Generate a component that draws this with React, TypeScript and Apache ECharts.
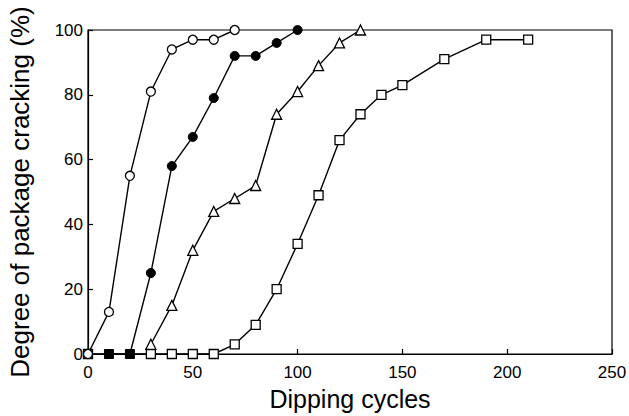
import React, { useEffect, useRef } from "react";
import * as echarts from "echarts";

const xTicks = [0, 50, 100, 150, 200, 250];
const yTicks = [0, 20, 40, 60, 80, 100];

const openCircleX = [0, 10, 20, 30, 40, 50, 60, 70];
const openCircleY = [0, 13, 55, 81, 94, 97, 97, 100];

const filledX = [10, 20, 30, 40, 50, 60, 70, 80, 90, 100];
const filledY = [0, 0, 25, 58, 67, 79, 92, 92, 96, 100];
const filledSquareAt = [10, 20];

const triangleX = [30, 40, 50, 60, 70, 80, 90, 100, 110, 120, 130];
const triangleY = [3, 15, 32, 44, 48, 52, 74, 81, 89, 96, 100];

const squareX = [0, 30, 40, 50, 60, 70, 80, 90, 100, 110, 120, 130, 140, 150, 170, 190, 210];
const squareY = [0, 0, 0, 0, 0, 3, 9, 20, 34, 49, 66, 74, 80, 83, 91, 97, 97];

const FONT = "'Liberation Sans', Arial, Helvetica, sans-serif";

function pairs(xs: number[], ys: number[]) {
  return xs.map((x, i) => [x, ys[i]]);
}

export default function App() {
  const ref = useRef<HTMLDivElement>(null);
  useEffect(() => {
    if (!ref.current) return;
    const chart = echarts.init(ref.current, null, { renderer: "svg" });
    const lineStyle = { color: "#000", width: 1.4 };
    const option: any = {
      animation: false,
      backgroundColor: "#fff",
      grid: {
        left: 88,
        right: 17,
        top: 30,
        bottom: 62,
        containLabel: false,
        outerBoundsMode: "none",
        show: true,
        borderColor: "#000",
        borderWidth: 1.2,
        backgroundColor: "transparent",
      },
      xAxis: {
        type: "value",
        min: xTicks[0],
        max: xTicks[xTicks.length - 1],
        interval: 50,
        name: "Dipping cycles",
        nameLocation: "middle",
        nameGap: 32,
        nameTextStyle: { fontFamily: FONT, fontSize: 25, color: "#000" },
        axisLine: { show: true, lineStyle: { color: "#000", width: 1.2 } },
        axisTick: { show: true, inside: true, length: 5, lineStyle: { color: "#000", width: 1.2 } },
        axisLabel: { fontFamily: FONT, fontSize: 17, color: "#000", margin: 10 },
        splitLine: { show: false },
      },
      yAxis: {
        type: "value",
        min: yTicks[0],
        max: yTicks[yTicks.length - 1],
        interval: 20,
        name: "Degree of package cracking (%)",
        nameLocation: "middle",
        nameGap: 55,
        nameTextStyle: { fontFamily: FONT, fontSize: 26, color: "#000" },
        axisLine: { show: true, lineStyle: { color: "#000", width: 1.2 } },
        axisTick: { show: true, inside: true, length: 5, lineStyle: { color: "#000", width: 1.2 } },
        axisLabel: { fontFamily: FONT, fontSize: 17, color: "#000", margin: 5 },
        splitLine: { show: false },
      },
      series: [
        {
          type: "line",
          data: pairs(squareX, squareY),
          symbol: "rect",
          symbolSize: 9,
          lineStyle,
          itemStyle: { color: "#fff", borderColor: "#000", borderWidth: 1.3 },
          z: 2,
        },
        {
          type: "line",
          data: pairs(triangleX, triangleY),
          symbol: "triangle",
          symbolSize: 10,
          lineStyle,
          itemStyle: { color: "#fff", borderColor: "#000", borderWidth: 1.3 },
          z: 3,
        },
        {
          type: "line",
          data: pairs(openCircleX, openCircleY),
          symbol: "circle",
          symbolSize: 9,
          lineStyle,
          itemStyle: { color: "#fff", borderColor: "#000", borderWidth: 1.3 },
          z: 4,
        },
        {
          type: "line",
          data: filledX.map((x, i) => {
            const item: any = { value: [x, filledY[i]] };
            if (filledSquareAt.includes(x)) {
              item.symbol = "rect";
              item.symbolSize = 9;
            }
            return item;
          }),
          symbol: "circle",
          symbolSize: 9,
          lineStyle,
          itemStyle: { color: "#000", borderColor: "#000", borderWidth: 1 },
          z: 5,
        },
      ],
    };
    chart.setOption(option);
    return () => chart.dispose();
  }, []);
  return (
    <div
      ref={ref}
      style={{ position: "fixed", left: 0, top: 0, width: 629, height: 416, background: "#fff" }}
    />
  );
}
